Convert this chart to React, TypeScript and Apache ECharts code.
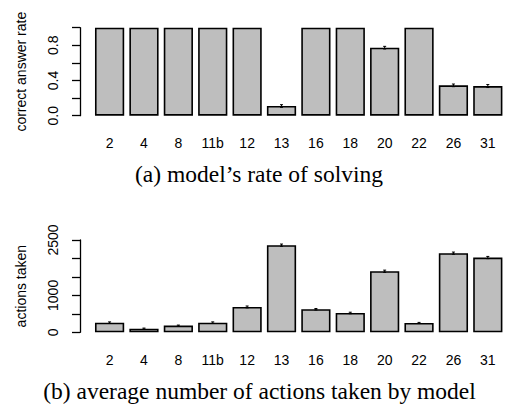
import React, { useEffect, useRef } from 'react';
import * as echarts from 'echarts';

const categories = ['2', '4', '8', '11b', '12', '13', '16', '18', '20', '22', '26', '31'];
const solveRate = [1, 1, 1, 1, 1, 0.11, 1, 1, 0.773, 1, 0.345, 0.337];
const solveRateErr = [0, 0, 0, 0, 0, 0.015, 0, 0, 0.015, 0, 0.015, 0.017];
const actionsTaken = [262, 99, 181, 262, 687, 2360, 624, 524, 1654, 253, 2143, 2025];
const actionsErr = [20, 15, 15, 20, 25, 30, 20, 20, 30, 15, 30, 30];
const rateTickLabels = ['0.0', '0.4', '0.8'];
const actionTickLabels = ['0', '1000', '2500'];
const captionA = '(a) model\u2019s rate of solving';
const captionB = '(b) average number of actions taken by model';

const SANS = '"Liberation Sans", Arial, sans-serif';
const SERIF = '"Liberation Serif", "Times New Roman", serif';

function errorRender(params: any, api: any) {
  const idx = api.value(0);
  const lo = api.coord([idx, api.value(1)]);
  const hi = api.coord([idx, api.value(2)]);
  if (Math.abs(lo[1] - hi[1]) < 0.5) return null;
  const cap = 1.5;
  const st = { stroke: '#000', lineWidth: 1 };
  return {
    type: 'group',
    children: [
      { type: 'line', shape: { x1: lo[0], y1: lo[1], x2: hi[0], y2: hi[1] }, style: st },
      { type: 'line', shape: { x1: lo[0] - cap, y1: lo[1], x2: lo[0] + cap, y2: lo[1] }, style: st },
      { type: 'line', shape: { x1: hi[0] - cap, y1: hi[1], x2: hi[0] + cap, y2: hi[1] }, style: st },
    ],
  };
}

export default function App() {
  const ref = useRef<HTMLDivElement>(null);
  useEffect(() => {
    document.body.style.margin = '0';
    const chart = echarts.init(ref.current!, null, { renderer: 'svg' });
    const gridLeft = 92.4;
    const gridWidth = 414.9;
    const yAxisCommon = (gi: number) => ({
      type: 'value' as const,
      gridIndex: gi,
      min: 0,
      offset: 12.4,
      nameLocation: 'middle' as const,
      nameRotate: 90,
      nameGap: 52,
      nameTextStyle: { fontFamily: SANS, fontSize: 14, color: '#000' },
      axisLine: { show: true, lineStyle: { color: '#000', width: 1.3 } },
      axisTick: { show: true, length: 8, lineStyle: { color: '#000', width: 1.3 } },
      splitLine: { show: false },
    });
    const xAxisCommon = (gi: number, margin: number) => ({
      type: 'category' as const,
      gridIndex: gi,
      data: categories,
      axisLine: { show: false },
      axisTick: { show: false },
      axisLabel: { fontFamily: SANS, fontSize: 14, color: '#000', margin, interval: 0 },
    });
    const barStyle = { color: '#bebebe', borderColor: '#000', borderWidth: 1.6 };
    chart.setOption({
      animation: false,
      grid: [
        { left: gridLeft, width: gridWidth, top: 27.7, height: 88 },
        { left: gridLeft, width: gridWidth, top: 240, height: 92.3 },
      ],
      xAxis: [xAxisCommon(0, 20), xAxisCommon(1, 21)],
      yAxis: [
        {
          ...yAxisCommon(0),
          max: 1,
          interval: 0.2,
          name: 'correct answer rate',
          axisLabel: {
            rotate: 90,
            margin: 20,
            fontFamily: SANS,
            fontSize: 14,
            color: '#000',
            formatter: (v: number) => {
              const s = v.toFixed(1);
              return rateTickLabels.includes(s) ? s : '';
            },
          },
        },
        {
          ...yAxisCommon(1),
          max: 2500,
          interval: 500,
          name: 'actions taken',
          axisLabel: {
            rotate: 90,
            margin: 20,
            fontFamily: SANS,
            fontSize: 14,
            color: '#000',
            formatter: (v: number) => {
              const s = String(Math.round(v));
              return actionTickLabels.includes(s) ? s : '';
            },
          },
        },
      ],
      series: [
        {
          type: 'bar',
          xAxisIndex: 0,
          yAxisIndex: 0,
          data: solveRate,
          barCategoryGap: '15%',
          itemStyle: barStyle,
        },
        {
          type: 'custom',
          xAxisIndex: 0,
          yAxisIndex: 0,
          renderItem: errorRender,
          data: solveRate.map((v, i) => [i, v - solveRateErr[i], v + solveRateErr[i]]),
          z: 10,
        },
        {
          type: 'bar',
          xAxisIndex: 1,
          yAxisIndex: 1,
          data: actionsTaken,
          barCategoryGap: '15%',
          itemStyle: barStyle,
        },
        {
          type: 'custom',
          xAxisIndex: 1,
          yAxisIndex: 1,
          renderItem: errorRender,
          data: actionsTaken.map((v, i) => [i, v - actionsErr[i], v + actionsErr[i]]),
          z: 10,
        },
      ],
      graphic: [
        {
          type: 'text',
          x: 259,
          y: 174,
          style: {
            text: captionA,
            fontFamily: SERIF,
            fontSize: 23.5,
            fill: '#000',
            textAlign: 'center',
            textVerticalAlign: 'middle',
          },
        },
        {
          type: 'text',
          x: 259.5,
          y: 391,
          style: {
            text: captionB,
            fontFamily: SERIF,
            fontSize: 23.5,
            fill: '#000',
            textAlign: 'center',
            textVerticalAlign: 'middle',
          },
        },
      ],
    });
    return () => chart.dispose();
  }, []);
  return <div ref={ref} style={{ width: 505, height: 406, overflow: 'hidden' }} />;
}
